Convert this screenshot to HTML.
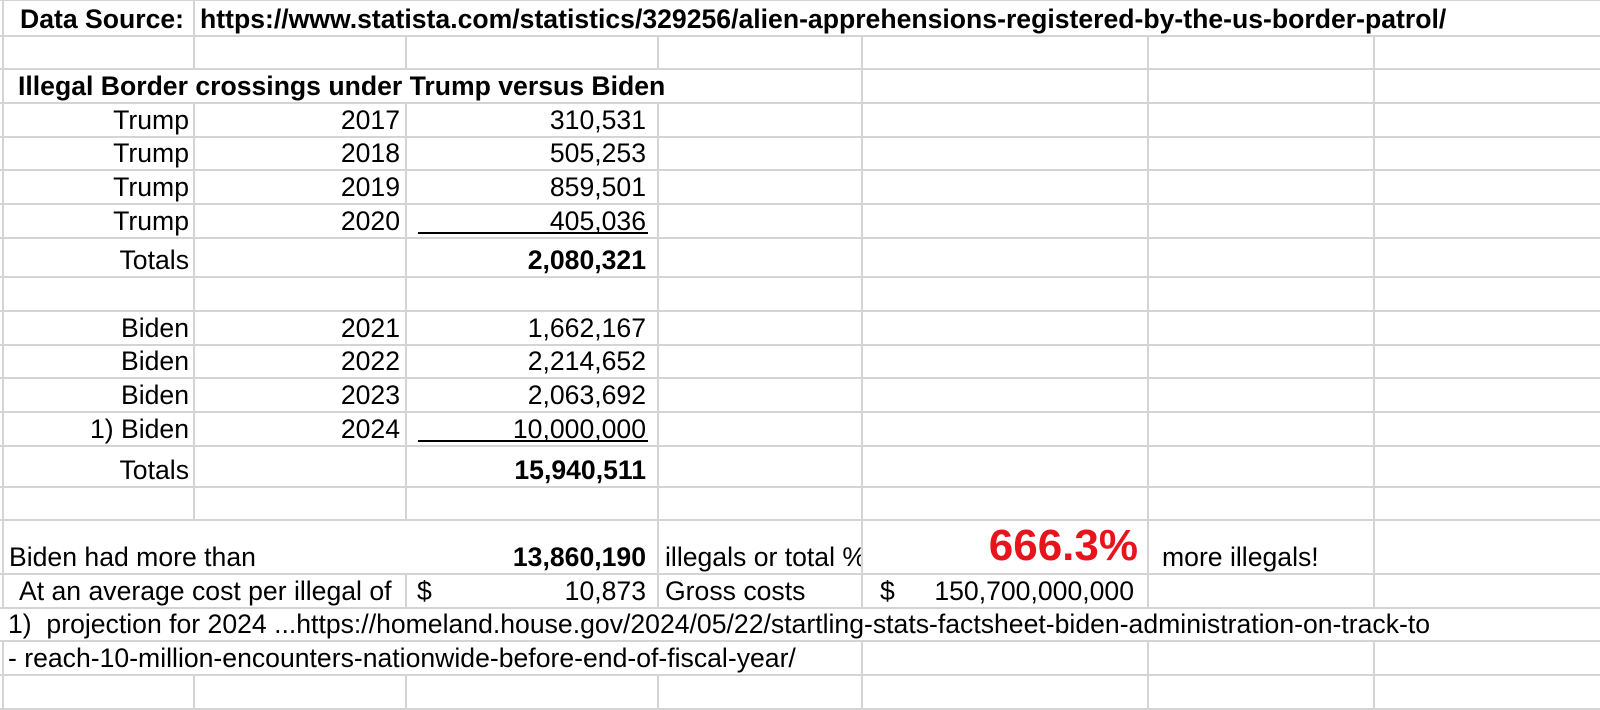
<!DOCTYPE html>
<html><head><meta charset="utf-8"><style>
html,body{margin:0;padding:0;background:#fff;}
#s{position:relative;width:1600px;height:710px;overflow:hidden;font-family:"Liberation Sans",Arial,sans-serif;font-size:26.6px;color:#000;}
.h{position:absolute;left:0;width:1600px;height:2px;background:#d4d4d4;}
.v{position:absolute;width:2px;background:#d4d4d4;}
.t{position:absolute;white-space:nowrap;line-height:30px;}
.b{font-weight:bold;}
.u{position:absolute;height:2px;background:#000;}
</style></head><body><div id="s"></div>
<script>
var R=[0,36,69,103,137,170,204,238,277,311,345,378,412,446,487,520,574,608,641,675,709];
var C=[3,194,406,658,862,1148,1374];
var hide={0:[406,658,862,1148,1374],2:[194,406,658],15:[194,406],16:[194],17:[3,194,406,658,862,1148,1374],18:[194,406,658]};
var s=document.getElementById('s'),h='';
for(var i=0;i<R.length;i++)h+='<div class="h" style="top:'+(R[i]-1)+'px"></div>';
for(var r=0;r<R.length-1;r++){for(var j=0;j<C.length;j++){var x=C[j];if(hide[r]&&hide[r].indexOf(x)>=0)continue;h+='<div class="v" style="left:'+(x-1)+'px;top:'+R[r]+'px;height:'+(R[r+1]-R[r])+'px"></div>';}}
function T(row,txt,opt){var bot=710-R[row+1]+2;var st='bottom:'+bot+'px;';if(opt.l!=null)st+='left:'+opt.l+'px;';if(opt.r!=null)st+='right:'+(1600-opt.r)+'px;';if(opt.st)st+=opt.st;h+='<div class="t'+(opt.b?' b':'')+'" style="'+st+'">'+txt+'</div>';}
T(0,'Data Source:',{l:20,b:1});
T(0,'https://www.statista.com/statistics/329256/alien-apprehensions-registered-by-the-us-border-patrol/',{l:200,b:1});
T(2,'Illegal Border crossings under Trump versus Biden',{l:18,b:1});
var tr=[['2017','310,531'],['2018','505,253'],['2019','859,501'],['2020','405,036']];
for(var k=0;k<4;k++){T(3+k,'Trump',{r:189});T(3+k,tr[k][0],{r:400});T(3+k,tr[k][1],{r:646});}
T(7,'Totals',{r:189});T(7,'2,080,321',{r:646,b:1});
var bd=[['Biden','2021','1,662,167'],['Biden','2022','2,214,652'],['Biden','2023','2,063,692'],['1) Biden','2024','10,000,000']];
for(var k=0;k<4;k++){T(9+k,bd[k][0],{r:189});T(9+k,bd[k][1],{r:400});T(9+k,bd[k][2],{r:646});}
T(13,'Totals',{r:189});T(13,'15,940,511',{r:646,b:1});
T(15,'Biden had more than',{l:9});
T(15,'13,860,190',{r:646,b:1});
h+='<div class="t" style="bottom:'+(710-574+2)+'px;left:665px;width:196px;overflow:hidden">illegals or total %</div>';
T(15,'666.3%',{r:1138,b:1,st:'font-size:44px;line-height:48px;color:#e8141b;bottom:'+(710-574+4)+'px;'});
T(15,'more illegals!',{l:1162});
T(16,'At an average cost per illegal of',{l:19});
T(16,'$',{l:417});T(16,'10,873',{r:646});T(16,'Gross costs',{l:665});
T(16,'$',{l:880});T(16,'150,700,000,000',{r:1134});
T(17,'1)&nbsp; projection for 2024 ...https://homeland.house.gov/2024/05/22/startling-stats-factsheet-biden-administration-on-track-to',{l:8});
T(18,'- reach-10-million-encounters-nationwide-before-end-of-fiscal-year/',{l:8});
h+='<div class="u" style="left:418px;width:230px;top:232px"></div>';
h+='<div class="u" style="left:418px;width:230px;top:440px"></div>';
s.innerHTML=h;
</script></body></html>
